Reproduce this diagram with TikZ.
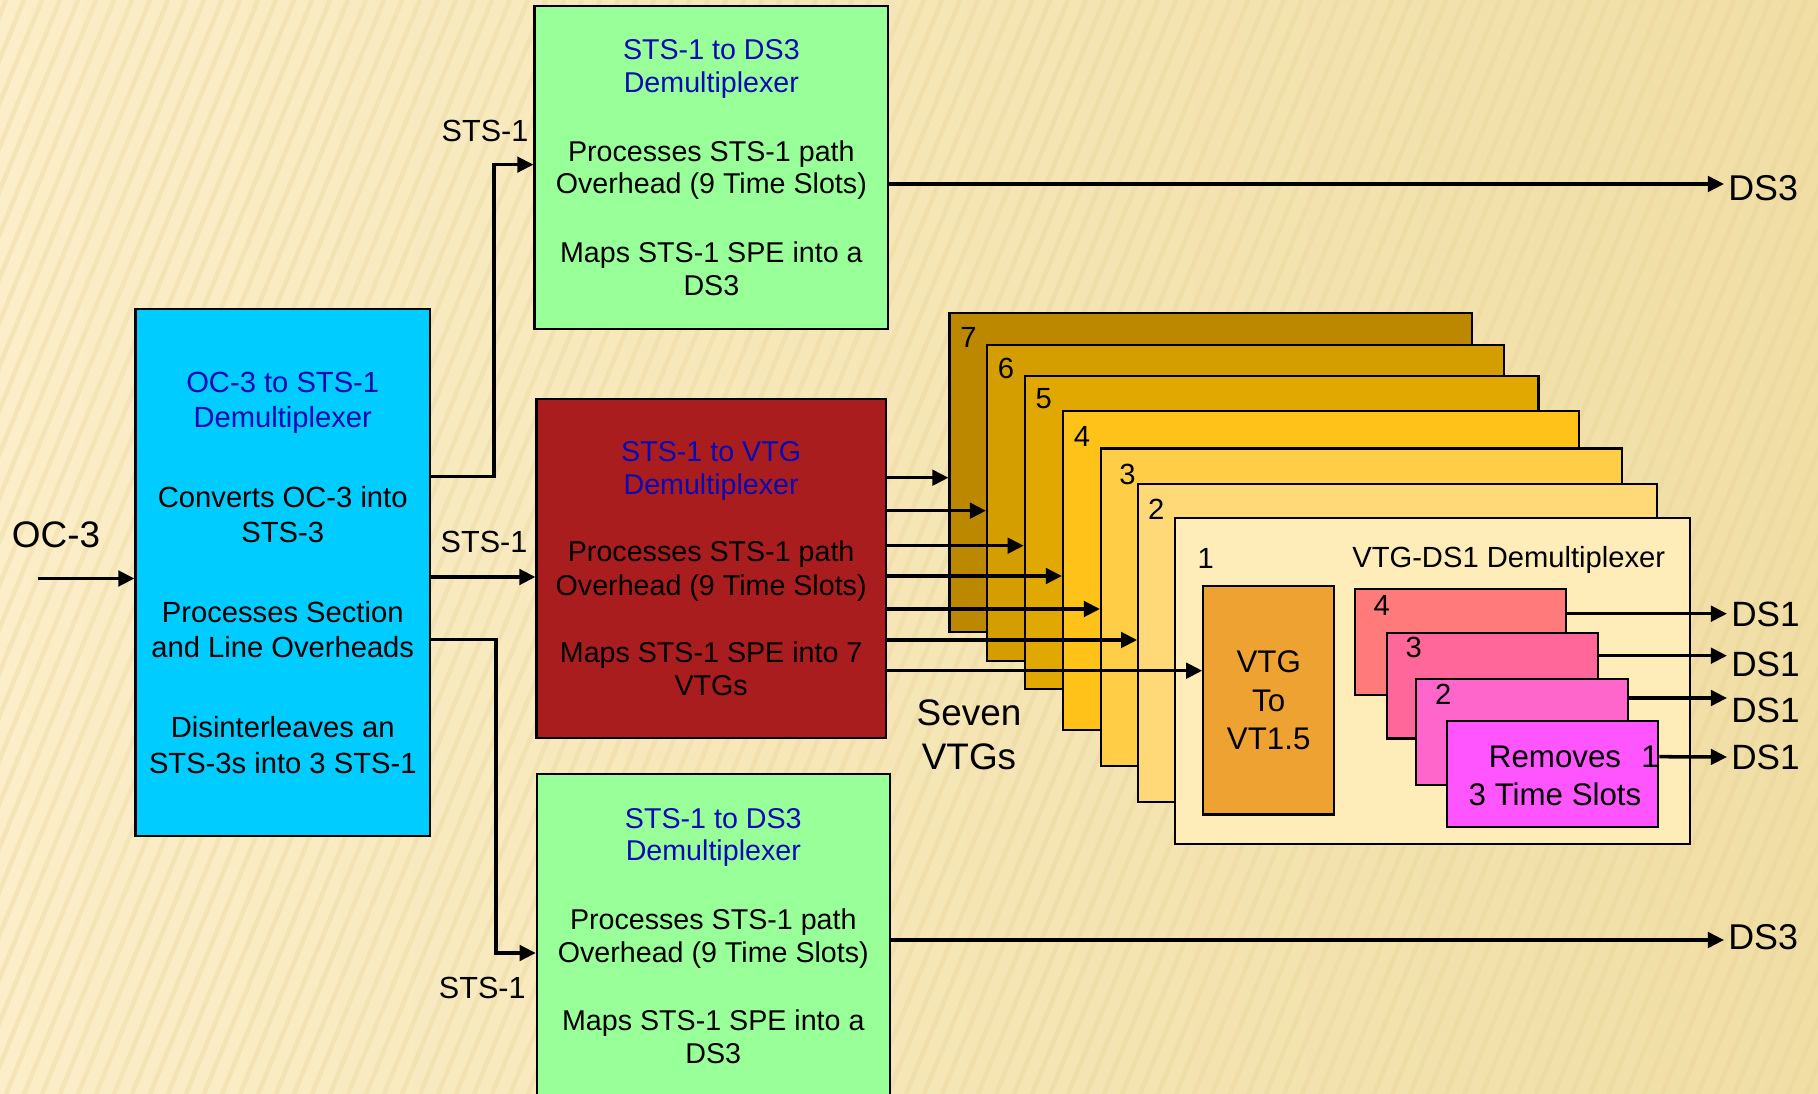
\documentclass[tikz,border=0pt]{standalone}
\usepackage{fontspec}
\setmainfont{Liberation Sans}
\usetikzlibrary{positioning,arrows.meta}

\definecolor{bgleft}{RGB}{251,238,200}
\definecolor{bgright}{RGB}{240,222,165}
\definecolor{bgstripe}{RGB}{232,210,150}
\definecolor{titleblue}{RGB}{10,10,180}
\definecolor{ocblue}{RGB}{0,204,255}
\definecolor{dsgreen}{RGB}{153,255,153}
\definecolor{vtgred}{RGB}{170,29,30}
\definecolor{vtg7}{RGB}{187,136,0}
\definecolor{vtg6}{RGB}{213,158,0}
\definecolor{vtg5}{RGB}{224,168,0}
\definecolor{vtg4}{RGB}{255,194,25}
\definecolor{vtg3}{RGB}{255,206,70}
\definecolor{vtg2}{RGB}{255,217,120}
\definecolor{vtg1}{RGB}{255,237,185}
\definecolor{vtorange}{RGB}{238,162,50}
\definecolor{slot4}{RGB}{255,122,122}
\definecolor{slot3}{RGB}{255,102,153}
\definecolor{slot2}{RGB}{255,102,204}
\definecolor{slot1}{RGB}{255,85,255}

\newcommand{\dmxname}[1]{\textcolor{titleblue}{#1}}

\begin{document}
\begin{tikzpicture}[x=0.1mm, y=-0.1mm,
        box/.style={draw=black, line width=0.6pt, inner sep=0pt, align=center, font=\fontsize{8.15}{9.3}\selectfont},
        card/.style={draw=black, line width=0.6pt, inner sep=0pt},
        slot/.style={draw=black, line width=0.6pt, inner sep=0pt, minimum width=21.13mm, minimum height=10.57mm},
        num/.style={inner sep=0pt, font=\fontsize{8.3}{10}\selectfont},
        lbl/.style={inner sep=1pt, font=\fontsize{8.7}{10}\selectfont},
        outlbl/.style={anchor=west, inner sep=1pt, font=\fontsize{10}{12}\selectfont},
        flow/.style={-{Triangle[length=4.6pt,width=4.4pt]}, line width=1pt},
        stripe/.style={draw=bgstripe, line width=1.3pt, opacity=0.32}
    ]
    \useasboundingbox (0,0) rectangle (1818,1094);
    \shade[left color=bgleft, right color=bgright] (0,0) rectangle (1818,1094);
    \foreach \i in {-480,-462,...,1818} \draw[stripe] (\i,1094) -- ++(450,-1094);

    \node[box, fill=ocblue, minimum width=29.45mm, minimum height=52.7mm, font=\fontsize{8.3}{10}\selectfont] (oc) at (282.75,572.5)
        {\dmxname{OC-3 to STS-1}\\\dmxname{Demultiplexer}\\[12.8pt]Converts OC-3 into\\STS-3\\[12.8pt]Processes Section\\and Line Overheads\\[12.8pt]Disinterleaves an\\STS-3s into 3 STS-1};
    \node[box, fill=dsgreen, minimum width=35.37mm, minimum height=32.33mm] (g1) at (711.35,167.65)
        {\dmxname{STS-1 to DS3}\\\dmxname{Demultiplexer}\\[10.2pt]Processes STS-1 path\\Overhead (9 Time Slots)\\[10.2pt]Maps STS-1 SPE into a\\DS3};
    \node[box, fill=vtgred, minimum width=34.93mm, minimum height=33.94mm, font=\fontsize{8.15}{9.6}\selectfont] (vtgdmx) at (711.15,568.7)
        {\dmxname{STS-1 to VTG}\\\dmxname{Demultiplexer}\\[9.4pt]Processes STS-1 path\\Overhead (9 Time Slots)\\[9.4pt]Maps STS-1 SPE into 7\\VTGs};
    \node[box, fill=dsgreen, minimum width=35.3mm, minimum height=32.33mm] (g2) at (713.3,936)
        {\dmxname{STS-1 to DS3}\\\dmxname{Demultiplexer}\\[10.2pt]Processes STS-1 path\\Overhead (9 Time Slots)\\[10.2pt]Maps STS-1 SPE into a\\DS3};

    \node[card, fill=vtg7, minimum width=52.29mm, minimum height=31.84mm] (c7) at (1210.95,472.5) {};
    \node[card, fill=vtg6, minimum width=51.67mm, minimum height=31.6mm] (c6) at (1245.35,502.8) {};
    \node[card, fill=vtg5, minimum width=51.37mm, minimum height=31.29mm] (c5) at (1281.65,532.25) {};
    \node[card, fill=vtg4, minimum width=51.61mm, minimum height=31.9mm] (c4) at (1321.05,570.5) {};
    \node[card, fill=vtg3, minimum width=52.1mm, minimum height=31.77mm] (c3) at (1361.5,607.35) {};
    \node[card, fill=vtg2, minimum width=51.86mm, minimum height=31.84mm] (c2) at (1397.5,643.2) {};
    \node[card, fill=vtg1, minimum width=51.49mm, minimum height=32.63mm] (c1) at (1432.75,681.15) {};

    \node[num] at ([xshift=2mm,yshift=-2.5mm]c7.north west) {7};
    \node[num] at ([xshift=2mm,yshift=-2.5mm]c6.north west) {6};
    \node[num] at ([xshift=2mm,yshift=-2.4mm]c5.north west) {5};
    \node[num] at ([xshift=2mm,yshift=-2.7mm]c4.north west) {4};
    \node[num] at ([xshift=2.76mm,yshift=-2.68mm]c3.north west) {3};
    \node[num] at ([xshift=1.9mm,yshift=-2.67mm]c2.north west) {2};
    \node[num] at ([xshift=3.15mm,yshift=-4.18mm]c1.north west) {1};
    \node[num] (dsdmx) at (1508.7,560) {VTG-DS1 Demultiplexer};

    \node[box, fill=vtorange, minimum width=13.07mm, minimum height=22.85mm, font=\fontsize{8.9}{11}\selectfont] (vt) at (1268.65,700.25) {VTG\\To\\VT1.5};

    \node[slot, fill=slot4] (p4) at (1460.35,642.15) {};
    \node[slot, fill=slot3] (p3) at (1492.2,685.65) {};
    \node[slot, fill=slot2] (p2) at (1522,732) {};
    \node[slot, fill=slot1] (p1) at (1552.35,773.85) {};
    \node[num] at ([xshift=2.8mm,yshift=-1.7mm]p4.north west) {4};
    \node[num] at ([xshift=2.83mm,yshift=-1.53mm]p3.north west) {3};
    \node[num] at ([xshift=2.8mm,yshift=-1.67mm]p2.north west) {2};
    \node[num, font=\fontsize{8.9}{10}\selectfont] (p1num) at (1650,756.7) {1};
    \node[inner sep=0pt, align=center, font=\fontsize{8.9}{10.6}\selectfont] (rm) at (1555,776) {Removes\\3 Time Slots};

    \node[lbl, font=\fontsize{10.5}{12}\selectfont] (oc3) at (56,534.5) {OC-3};
    \node[lbl] (sts1a) at (485,131) {STS-1};
    \node[lbl] (sts1b) at (484,541.6) {STS-1};
    \node[lbl] (sts1c) at (482.3,987.8) {STS-1};
    \node[inner sep=0pt, align=center, font=\fontsize{10.5}{12.5}\selectfont] (seven) at (969,734.7) {Seven\\VTGs};

    \node[outlbl, font=\fontsize{10.2}{12}\selectfont] (ds3a) at (1724,188) {DS3};
    \node[outlbl, font=\fontsize{10.2}{12}\selectfont] (ds3b) at (1724,937) {DS3};
    \node[outlbl] (ds1a) at (1727,614) {DS1};
    \node[outlbl] (ds1b) at (1727,664) {DS1};
    \node[outlbl] (ds1c) at (1727,710) {DS1};
    \node[outlbl] (ds1d) at (1727,757) {DS1};

    \coordinate (ocin) at (38,578.5);
    \draw[flow] (ocin) -- (ocin -| oc.west);
    \draw[flow] ([yshift=9.58mm]oc.east) -- ++(63,0) |- ([yshift=0.3mm]g1.west);
    \draw[flow] ([yshift=-0.45mm]oc.east) -- ([yshift=-0.45mm]oc.east -| vtgdmx.west);
    \draw[flow] ([yshift=-6.68mm]oc.east) -- ++(65,0) |- ([yshift=-1.7mm]g2.west);

    \draw[flow] (vtgdmx.east |- 0,477.7) -- (c7.west |- 0,477.7);
    \draw[flow] (vtgdmx.east |- 0,510.7) -- (c6.west |- 0,510.7);
    \draw[flow] (vtgdmx.east |- 0,545.7) -- (c5.west |- 0,545.7);
    \draw[flow] (vtgdmx.east |- 0,576) -- (c4.west |- 0,576);
    \draw[flow] (vtgdmx.east |- 0,609) -- (c3.west |- 0,609);
    \draw[flow] (vtgdmx.east |- 0,640) -- (c2.west |- 0,640);
    \draw[flow] (vtgdmx.east |- 0,670.7) -- (vt.west |- 0,670.7);

    \draw[flow] (g1.east |- 0,184) -- (ds3a.west |- 0,184);
    \draw[flow] (g2.east |- 0,940) -- (ds3b.west |- 0,940);

    \draw[flow] (p4.east |- 0,613.7) -- (ds1a.west |- 0,613.7);
    \draw[flow] (p3.east |- 0,655.7) -- (ds1b.west |- 0,655.7);
    \draw[flow] (p2.east |- 0,698) -- (ds1c.west |- 0,698);
    \draw[flow] (p1num.east) -- (ds1d.west);
\end{tikzpicture}
\end{document}
